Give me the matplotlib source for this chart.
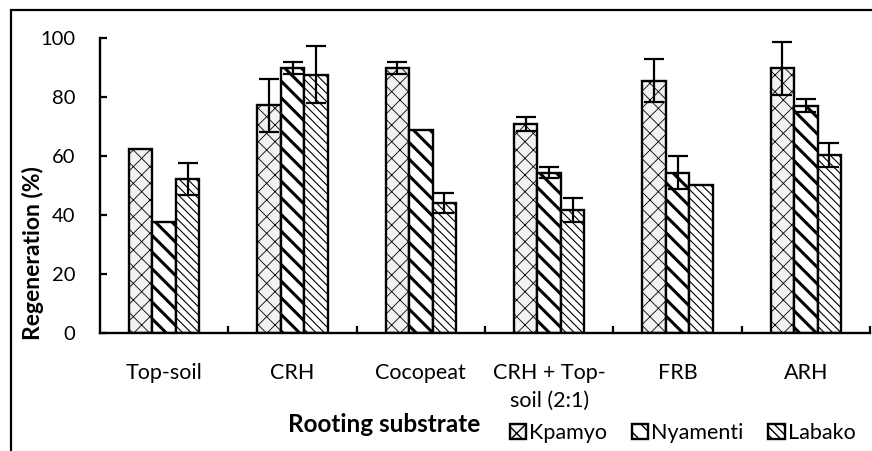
import numpy as np
import matplotlib
matplotlib.use("Agg")
import matplotlib.pyplot as plt
from matplotlib.patches import Rectangle

plt.rcParams['font.family'] = ['Lato', 'DejaVu Sans']

categories = ['Top-soil', 'CRH', 'Cocopeat', 'CRH + Top-\nsoil (2:1)', 'FRB', 'ARH']
series = ['Kpamyo', 'Nyamenti', 'Labako']
kpamyo = [62.5, 77.3, 89.8, 70.9, 85.6, 89.8]
nyamenti = [37.7, 89.8, 68.9, 54.4, 54.4, 77.1]
labako = [52.2, 87.6, 44.2, 41.7, 50.1, 60.5]
kpamyo_err = [0, 9.0, 2.0, 2.3, 7.4, 9.1]
nyamenti_err = [0, 2.0, 0, 2.0, 5.5, 2.2]
labako_err = [5.5, 9.7, 3.4, 4.2, 0, 4.1]

values = [kpamyo, nyamenti, labako]
errors = [kpamyo_err, nyamenti_err, labako_err]
styles = [
    dict(facecolor='#f2f2f2', hatch='xx', hlw=0.6),
    dict(facecolor='white', hatch='\\\\', hlw=2.2),
    dict(facecolor='white', hatch='\\\\\\\\', hlw=0.8),
]

fig = plt.figure(figsize=(8.72, 4.51), dpi=100)
ax = fig.add_axes([100 / 872, 1 - 332.7 / 451, 770 / 872, 294.4 / 451])

x = np.arange(len(categories))
w = 0.182
for i, (vals, errs, st) in enumerate(zip(values, errors, styles)):
    pos = x + (i - 1) * w
    with plt.rc_context({'hatch.linewidth': st['hlw']}):
        bars = ax.bar(pos, vals, width=w, facecolor=st['facecolor'], edgecolor='black',
                      hatch=st['hatch'], linewidth=1.7, label=series[i], zorder=2)
        for b in bars:
            if hasattr(b, 'set_hatch_linewidth'):
                b.set_hatch_linewidth(st['hlw'])
    e = np.array(errs)
    m = e > 0
    ax.errorbar(pos[m], np.array(vals)[m], yerr=e[m], fmt='none', ecolor='black',
                elinewidth=1.6, capsize=7, capthick=1.6, zorder=3)

ax.set_xlim(-0.5, 5.5)
ax.set_ylim(0, 100)
ax.set_yticks([0, 20, 40, 60, 80, 100])
ax.set_xticks(x)
ax.set_xticklabels(categories, fontsize=15.5, linespacing=1.45)
ax.set_xticks(np.arange(0.5, 6, 1), minor=True)
ax.tick_params(axis='x', which='major', length=0, pad=22)
ax.tick_params(axis='x', which='minor', direction='in', length=5, width=1.6)
ax.tick_params(axis='y', direction='in', length=5, width=1.6, labelsize=14.5, pad=18)
for s in ['top', 'right']:
    ax.spines[s].set_visible(False)
for s in ['left', 'bottom']:
    ax.spines[s].set_linewidth(1.7)

fig.text(33 / 872, 1 - 253 / 451, 'Regeneration (%)', rotation=90, ha='center', va='center',
         fontsize=16.5, fontweight='bold')
fig.text(384 / 872, 1 - 425 / 451, 'Rooting substrate', ha='center', va='center',
         fontsize=17.5, fontweight='bold')

handles, labels = ax.get_legend_handles_labels()
fig.legend(handles, labels, loc='center left', bbox_to_anchor=(499 / 872, 1 - 433 / 451),
           ncol=3, frameon=False, fontsize=15.5, handlelength=0.75, handleheight=0.75,
           handletextpad=0.15, columnspacing=1.15, borderpad=0)

fig.patches.append(Rectangle((11 / 872, -0.1), 1.2, 1.1 - 10.5 / 451, transform=fig.transFigure,
                             fill=False, edgecolor='black', linewidth=1.6))

fig.savefig('out.png', dpi=100)
